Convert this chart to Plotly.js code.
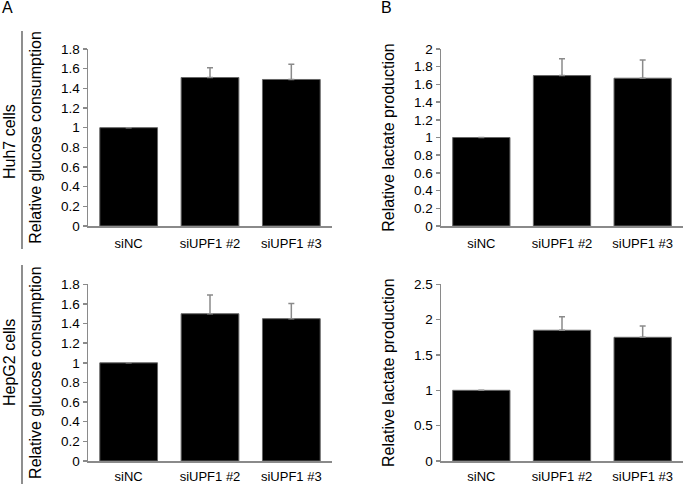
<!DOCTYPE html>
<html>
<head>
<meta charset="utf-8">
<script src="https://cdn.plot.ly/plotly-3.0.1.min.js"></script>
<style>html,body{margin:0;padding:0;background:#fff;}#chart{width:685px;height:484px;}</style>
</head>
<body>
<div id="chart"></div>
<script>
// Data
const categories = ["siNC", "siUPF1 #2", "siUPF1 #3"];
const huh7Glucose = [1.0, 1.51, 1.49];
const huh7GlucoseErr = [0, 0.10, 0.155];
const huh7Lactate = [1.0, 1.70, 1.67];
const huh7LactateErr = [0, 0.19, 0.205];
const hepg2Glucose = [1.0, 1.50, 1.45];
const hepg2GlucoseErr = [0, 0.19, 0.155];
const hepg2Lactate = [1.0, 1.85, 1.75];
const hepg2LactateErr = [0, 0.19, 0.16];

const FONT = "Liberation Sans, Arial, sans-serif";
const GREY = "#8a8a8a";

function barTrace(vals, errs, xa, ya) {
  return {
    type: "bar", x: categories, y: vals, xaxis: xa, yaxis: ya,
    marker: {color: "#000", line: {color: "#666", width: 1}},
    error_y: {type: "data", symmetric: false,
      array: errs.map(e => (e > 0 ? e : null)),
      arrayminus: errs.map(() => 0),
      color: GREY, thickness: 1.5, width: 3},
    showlegend: false, hoverinfo: "skip"
  };
}

const data = [
  barTrace(huh7Glucose, huh7GlucoseErr, "x", "y"),
  barTrace(huh7Lactate, huh7LactateErr, "x2", "y2"),
  barTrace(hepg2Glucose, hepg2GlucoseErr, "x3", "y3"),
  barTrace(hepg2Lactate, hepg2LactateErr, "x4", "y4")
];

function xax(domain, anchor, standoff) {
  return {domain: domain, anchor: anchor, type: "category", range: [-0.5, 2.5],
    showline: true, linecolor: GREY, linewidth: 1.5, ticks: "", showgrid: false, zeroline: false,
    tickfont: {family: FONT, size: 13, color: "#000"}, ticklabelstandoff: standoff, fixedrange: true};
}
function yax(domain, anchor, max, dtick, title) {
  return {domain: domain, anchor: anchor, range: [0, max], dtick: dtick, tick0: 0,
    showline: true, linecolor: GREY, linewidth: 1.5, ticks: "outside", ticklen: 4, tickwidth: 1.5,
    tickcolor: GREY, showgrid: false, zeroline: false,
    tickfont: {family: FONT, size: 13.5, color: "#000"},
    title: {text: title, font: {family: FONT, size: 16, color: "#000"}, standoff: 15}, fixedrange: true};
}

const xA = [88/685, 332/685], xB = [441/685, 683/685];
const yTop = [1 - 226/484, 1 - 49/484], yBot = [1 - 461/484, 1 - 284.3/484];

const layout = {
  width: 685, height: 484, margin: {l: 0, r: 0, t: 0, b: 0},
  paper_bgcolor: "#fff", plot_bgcolor: "#fff",
  bargap: 0.29,
  font: {family: FONT, color: "#000"},
  xaxis: xax(xA, "y", 5), yaxis: yax(yTop, "x", 1.8, 0.2, "Relative glucose consumption"),
  xaxis2: xax(xB, "y2", 5), yaxis2: yax(yTop, "x2", 2, 0.2, "Relative lactate production"),
  xaxis3: xax(xA, "y3", 3), yaxis3: yax(yBot, "x3", 1.8, 0.2, "Relative glucose consumption"),
  xaxis4: xax(xB, "y4", 3), yaxis4: yax(yBot, "x4", 2.5, 0.5, "Relative lactate production"),
  annotations: [
    {text: "A", x: 8/685, y: 1 - 8/484, xref: "paper", yref: "paper", xanchor: "center", yanchor: "middle", showarrow: false, font: {size: 16, family: FONT}},
    {text: "B", x: 386/685, y: 1 - 8/484, xref: "paper", yref: "paper", xanchor: "center", yanchor: "middle", showarrow: false, font: {size: 16, family: FONT}},
    {text: "Huh7 cells", x: 9/685, y: 1 - 142/484, xref: "paper", yref: "paper", xanchor: "center", yanchor: "middle", showarrow: false, textangle: -90, font: {size: 16, family: FONT}},
    {text: "HepG2 cells", x: 9/685, y: 1 - 363/484, xref: "paper", yref: "paper", xanchor: "center", yanchor: "middle", showarrow: false, textangle: -90, font: {size: 16, family: FONT}}
  ],
  shapes: [
    {type: "line", xref: "paper", yref: "paper", x0: 22/685, x1: 22/685, y0: 1 - 249/484, y1: 1 - 31/484, line: {color: "#444", width: 1.2}},
    {type: "line", xref: "paper", yref: "paper", x0: 22/685, x1: 22/685, y0: 0, y1: 1 - 265/484, line: {color: "#444", width: 1.2}}
  ]
};

Plotly.newPlot("chart", data, layout, {displayModeBar: false, staticPlot: true});
</script>
</body>
</html>
